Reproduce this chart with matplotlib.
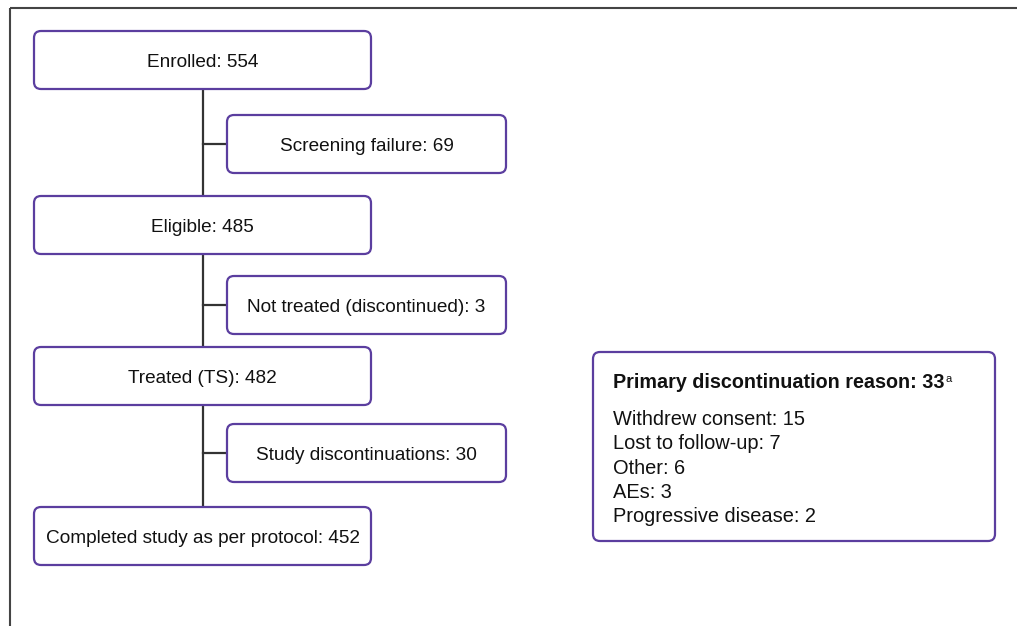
import matplotlib
matplotlib.use("Agg")
import matplotlib.pyplot as plt
from matplotlib.patches import FancyBboxPatch

plt.rcParams['font.family'] = ['Liberation Sans', 'DejaVu Sans']

main_labels = ["Enrolled", "Eligible", "Treated (TS)", "Completed study as per protocol"]
main_counts = [554, 485, 482, 452]
side_labels = ["Screening failure", "Not treated (discontinued)", "Study discontinuations"]
side_counts = [69, 3, 30]
reason_title = "Primary discontinuation reason"
reason_total = 33
reason_labels = ["Withdrew consent", "Lost to follow-up", "Other", "AEs", "Progressive disease"]
reason_counts = [15, 7, 6, 3, 2]

PURPLE = "#5B3E9F"
LINE = "#333333"
TXT = "#111111"
FS = 13.7
FS_REASON = 14.4
FS_TITLE = 14.2

fig = plt.figure(figsize=(10.17, 6.26), dpi=100)
ax = fig.add_axes([0, 0, 1, 1])
ax.set_xlim(0, 1017)
ax.set_ylim(626, 0)
ax.axis('off')

# outer frame (top and left visible)
ax.plot([10, 1017], [8, 8], color="#444444", lw=1.5, solid_capstyle='butt')
ax.plot([10, 10], [8, 626], color="#444444", lw=1.5, solid_capstyle='butt')

def box(x0, y0, x1, y1):
    p = FancyBboxPatch((x0, y0), x1 - x0, y1 - y0,
                       boxstyle="round,pad=0,rounding_size=7",
                       fc="white", ec=PURPLE, lw=1.6, zorder=3)
    ax.add_patch(p)

main_x0, main_x1 = 34, 371
main_y = [31, 196, 347, 507]
bh = 58
side_x0, side_x1 = 227, 506
side_y = [115, 276, 424]
cx = 202.5
base_off = 6.8

# vertical trunk
ax.plot([cx, cx], [main_y[0] + bh, main_y[-1]], color=LINE, lw=1.6, zorder=1)
for sy in side_y:
    ax.plot([cx, side_x0], [sy + bh / 2, sy + bh / 2], color=LINE, lw=1.6, zorder=1)

for lab, n, y in zip(main_labels, main_counts, main_y):
    box(main_x0, y, main_x1, y + bh)
    ax.text((main_x0 + main_x1) / 2, y + bh / 2 + base_off, f"{lab}: {n}", ha='center',
            va='baseline', fontsize=FS, color=TXT, zorder=4)

for lab, n, y in zip(side_labels, side_counts, side_y):
    box(side_x0, y, side_x1, y + bh)
    ax.text((side_x0 + side_x1) / 2, y + bh / 2 + base_off, f"{lab}: {n}", ha='center',
            va='baseline', fontsize=FS, color=TXT, zorder=4)

# reasons box
box(593, 352, 995, 541)
t = ax.text(613, 388, f"{reason_title}: {reason_total}", ha='left', va='baseline',
            fontsize=FS_TITLE, fontweight='bold', color=TXT, zorder=4)
ax.annotate("a", xy=(1, 0), xycoords=t, xytext=(0.8, 7.0), textcoords='offset points',
            ha='left', va='baseline', fontsize=8, color=TXT, zorder=4)
for i, (lab, n) in enumerate(zip(reason_labels, reason_counts)):
    ax.text(613, 425 + i * 24.3, f"{lab}: {n}", ha='left', va='baseline',
            fontsize=FS_REASON, color=TXT, zorder=4)

fig.savefig("out.png", dpi=100, facecolor="white")
